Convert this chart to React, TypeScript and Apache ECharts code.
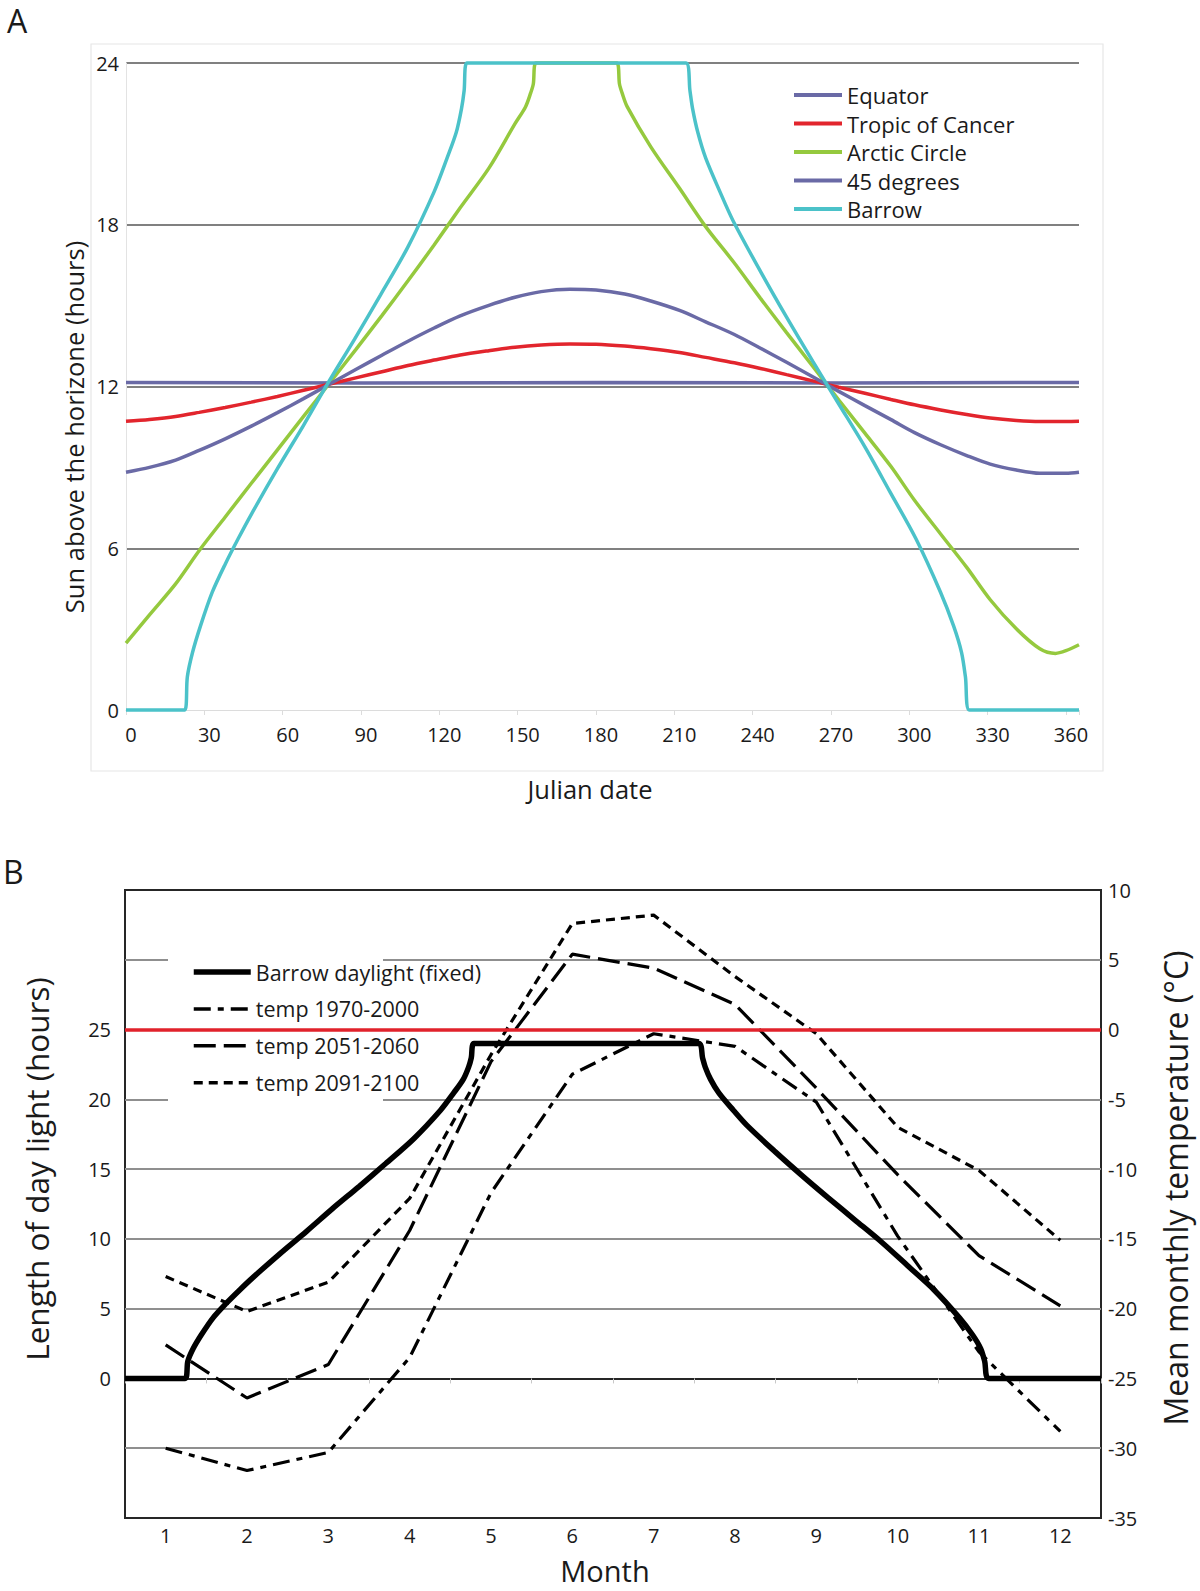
import React, { useEffect, useRef } from 'react';
import * as echarts from 'echarts';

// ---------- Panel A: hours of sun above the horizon vs Julian date ----------
const daysA = [0, 9, 19, 28, 38, 48, 58, 68, 78, 88, 98, 108, 118, 128, 139, 149, 159, 170, 180, 191, 201, 212, 222, 233, 243, 253, 263, 273, 283, 293, 302, 312, 322, 331, 341, 350, 360, 365];
const tropicHours = [10.71, 10.78, 10.89, 11.04, 11.22, 11.42, 11.63, 11.86, 12.09, 12.32, 12.55, 12.78, 12.98, 13.17, 13.33, 13.46, 13.54, 13.58, 13.57, 13.5, 13.4, 13.26, 13.08, 12.88, 12.67, 12.44, 12.21, 11.97, 11.75, 11.52, 11.32, 11.13, 10.96, 10.83, 10.74, 10.7, 10.7, 10.71];
const deg45Hours = [8.82, 9.0, 9.27, 9.63, 10.06, 10.53, 11.03, 11.55, 12.09, 12.63, 13.16, 13.68, 14.17, 14.62, 15.01, 15.31, 15.52, 15.61, 15.58, 15.43, 15.17, 14.82, 14.4, 13.93, 13.42, 12.9, 12.36, 11.82, 11.29, 10.77, 10.29, 9.84, 9.44, 9.12, 8.9, 8.78, 8.78, 8.82];

const equatorDays = [0, 91, 182, 273, 365];
const equatorHours = [12.15, 12.13, 12.15, 12.13, 12.15];

const arcticDays = [0, 9, 19, 28, 38, 48, 58, 68, 78, 88, 98, 108, 118, 128, 139, 149, 153, 155, 156, 157, 172, 188, 189, 190, 192, 201, 212, 222, 233, 243, 253, 263, 273, 283, 293, 302, 312, 322, 331, 341, 350, 356, 360, 365];
const arcticHours = [2.48, 3.53, 4.68, 5.91, 7.16, 8.41, 9.65, 10.89, 12.13, 13.37, 14.63, 15.92, 17.25, 18.63, 20.1, 21.75, 22.37, 22.89, 23.22, 24, 24, 24, 23.22, 22.89, 22.37, 20.89, 19.35, 17.93, 16.58, 15.27, 14.0, 12.75, 11.5, 10.27, 9.03, 7.78, 6.53, 5.29, 4.09, 3.01, 2.27, 2.1, 2.2, 2.42];

const barrowDays = [0, 22.5, 23.5, 25.5, 28.5, 33, 38, 43, 48, 58, 68, 77.5, 87.5, 97.5, 108, 118, 123, 126.5, 128.5, 129.5, 130.5, 214.5, 216, 217, 219, 222, 227.5, 232.5, 243, 253, 263, 273, 283, 292.5, 302.5, 312, 317, 320, 321.5, 323, 365];
const barrowHours = [0, 0, 1.23, 2.14, 3.11, 4.36, 5.41, 6.36, 7.26, 8.95, 10.56, 12.15, 13.75, 15.4, 17.18, 19.22, 20.48, 21.43, 22.31, 22.97, 24, 24, 22.97, 22.31, 21.43, 20.48, 19.22, 18.15, 16.27, 14.57, 12.94, 11.35, 9.76, 8.11, 6.36, 4.36, 3.11, 2.14, 1.23, 0, 0];

const legendA = ['Equator', 'Tropic of Cancer', 'Arctic Circle', '45 degrees', 'Barrow'];

// ---------- Panel B: Barrow daylight and mean monthly temperature ----------
const months = ['1', '2', '3', '4', '5', '6', '7', '8', '9', '10', '11', '12'];
const temp1970 = [-30.0, -31.6, -30.3, -23.5, -11.7, -3.2, -0.3, -1.2, -5.2, -14.8, -23.1, -28.8];
const temp2051 = [-22.6, -26.4, -24.0, -14.4, -2.3, 5.4, 4.4, 1.8, -4.2, -10.4, -16.2, -19.8];
const temp2091 = [-17.7, -20.2, -18.1, -12.1, -1.8, 7.6, 8.2, 3.8, -0.3, -7.0, -10.1, -15.1];

const FONT = "'Open Sans', 'Noto Sans', sans-serif";
const INK = '#1a1a1a';
const C_EQ = '#6a6aa6';
const C_TROP = '#e2252d';
const C_ARC = '#95c93e';
const C_BAR = '#4bc2c9';

const pairs = (xs: number[], ys: number[]) => xs.map((x, i) => [x, ys[i]]);

function txt(text: string, x: number, y: number, size: number, rot = 0, align = 'center') {
  return {
    type: 'text',
    x,
    y,
    rotation: rot,
    silent: true,
    z: 10,
    style: {
      text,
      fontSize: size,
      fontFamily: FONT,
      fill: INK,
      align,
      verticalAlign: 'middle',
      textAlign: align,
      textVerticalAlign: 'middle',
    },
  };
}

export default function App() {
  const ref = useRef<HTMLDivElement>(null);

  useEffect(() => {
    if (!ref.current) return;
    const chart = echarts.init(ref.current, undefined, { renderer: 'svg' });

    const lineA = (name: string, data: number[][], color: string, smooth: number) => ({
      name,
      type: 'line',
      xAxisIndex: 0,
      yAxisIndex: 0,
      data,
      symbol: 'none',
      clip: false,
      smooth,
      lineStyle: { color, width: 3.5 },
      itemStyle: { color },
    });

    const option: any = {
      animation: false,
      backgroundColor: '#ffffff',
      textStyle: { fontFamily: FONT, color: INK },
      grid: [
        { left: 126, top: 63, width: 953, height: 647 },
        {
          left: 125,
          top: 890,
          width: 976,
          height: 628,
          show: true,
          borderColor: '#262626',
          borderWidth: 2,
          backgroundColor: 'transparent',
        },
      ],
      xAxis: [
        {
          gridIndex: 0,
          type: 'value',
          min: 0,
          max: 365,
          interval: 30,
          axisLine: { show: true, lineStyle: { color: '#dcdcdc', width: 1 } },
          axisTick: { show: true, length: 5, lineStyle: { color: '#dcdcdc' } },
          axisLabel: {
            fontSize: 20,
            color: INK,
            margin: 14,
            padding: [0, 0, 0, 10],
            formatter: (v: number) => (v % 30 === 0 ? String(v) : ''),
          },
          splitLine: { show: false },
        },
        {
          gridIndex: 1,
          type: 'category',
          data: months,
          boundaryGap: true,
          axisLine: { show: true, lineStyle: { color: '#262626', width: 2 } },
          axisTick: { show: true, alignWithLabel: false, length: 5, lineStyle: { color: '#c8c8c8' } },
          axisLabel: { fontSize: 20, color: INK, margin: 7, lineHeight: 20 },
          splitLine: { show: false },
        },
        { gridIndex: 1, type: 'value', min: 0, max: 365, show: false },
      ],
      yAxis: [
        {
          gridIndex: 0,
          type: 'value',
          min: 0,
          max: 24,
          interval: 6,
          axisLine: { show: true, lineStyle: { color: '#e3e3e3' } },
          axisTick: { show: false },
          axisLabel: { fontSize: 20, color: INK, margin: 7 },
          splitLine: { show: true, showMinLine: false, lineStyle: { color: '#808080', width: 2 } },
        },
        {
          gridIndex: 1,
          type: 'value',
          position: 'left',
          min: -10,
          max: 35,
          interval: 5,
          axisLine: { show: false },
          axisTick: { show: false },
          axisLabel: {
            fontSize: 20,
            color: INK,
            margin: 14,
            formatter: (v: number) => (v >= 0 && v <= 25 ? String(v) : ''),
          },
          splitLine: {
            show: true,
            showMinLine: false,
            showMaxLine: false,
            lineStyle: { color: '#8f8f8f', width: 2 },
          },
        },
        {
          gridIndex: 1,
          type: 'value',
          position: 'right',
          min: -35,
          max: 10,
          interval: 5,
          axisLine: { show: false },
          axisTick: { show: false },
          axisLabel: { fontSize: 20, color: INK, margin: 7 },
          splitLine: { show: false },
        },
      ],
      legend: [
        {
          data: legendA,
          orient: 'vertical',
          left: 787,
          top: 78,
          itemWidth: 48,
          itemHeight: 14,
          itemGap: 4.5,
          selectedMode: false,
          textStyle: { fontSize: 22, color: INK, lineHeight: 24, fontFamily: FONT },
          lineStyle: { width: 4 },
          itemStyle: { opacity: 0 },
        },
        {
          data: [
            { name: 'Barrow daylight (fixed)', lineStyle: { width: 5.5 } },
            { name: 'temp 1970-2000' },
            { name: 'temp 2051-2060' },
            { name: 'temp 2091-2100' },
          ],
          orient: 'vertical',
          left: 186,
          top: 955,
          itemWidth: 57,
          itemHeight: 14,
          itemGap: 12.9,
          selectedMode: false,
          textStyle: { fontSize: 21.5, color: INK, lineHeight: 24, fontFamily: FONT },
          lineStyle: { width: 3.5 },
          itemStyle: { opacity: 0 },
        },
      ],
      graphic: [
        {
          type: 'rect',
          silent: true,
          z: -1,
          shape: { x: 91, y: 44, width: 1012, height: 727 },
          style: { fill: 'none', stroke: '#e6e6e6', lineWidth: 1.2 },
        },
        {
          type: 'rect',
          silent: true,
          z: 1,
          shape: { x: 168, y: 948, width: 215, height: 162 },
          style: { fill: '#ffffff' },
        },
        txt('A', 7, 20, 32, 0, 'left'),
        txt('B', 3, 871, 32, 0, 'left'),
        txt('Julian date', 590, 789, 25.5),
        txt('Sun above the horizone (hours)', 74, 427, 25.5, Math.PI / 2),
        txt('Length of day light (hours)', 36, 1169, 31.5, Math.PI / 2),
        txt('Mean monthly temperature (°C)', 1175, 1188, 32, Math.PI / 2),
        txt('Month', 605, 1570, 29),
      ],
      series: [
        lineA('Equator', pairs(equatorDays, equatorHours), C_EQ, 0),
        lineA('Tropic of Cancer', pairs(daysA, tropicHours), C_TROP, 0.3),
        lineA('Arctic Circle', pairs(arcticDays, arcticHours), C_ARC, 0.3),
        lineA('45 degrees', pairs(daysA, deg45Hours), C_EQ, 0.3),
        lineA('Barrow', pairs(barrowDays, barrowHours), C_BAR, 0.3),
        {
          name: 'Barrow daylight (fixed)',
          type: 'line',
          xAxisIndex: 2,
          yAxisIndex: 1,
          data: pairs(barrowDays, barrowHours),
          symbol: 'none',
          clip: false,
          smooth: 0.3,
          lineStyle: { color: '#000000', width: 5.5 },
          itemStyle: { color: '#000000' },
          z: 3,
        },
        {
          name: 'temp 1970-2000',
          type: 'line',
          xAxisIndex: 1,
          yAxisIndex: 2,
          data: temp1970,
          symbol: 'none',
          lineStyle: { color: '#000000', width: 3.2, type: [17, 7, 6, 7] },
          itemStyle: { color: '#000000' },
          markLine: {
            silent: true,
            symbol: ['none', 'none'],
            label: { show: false },
            lineStyle: { color: '#e1222b', width: 3.5, type: 'solid' },
            data: [{ yAxis: 0 }],
          },
          z: 3,
        },
        {
          name: 'temp 2051-2060',
          type: 'line',
          xAxisIndex: 1,
          yAxisIndex: 2,
          data: temp2051,
          symbol: 'none',
          lineStyle: { color: '#000000', width: 3.2, type: [22, 8] },
          itemStyle: { color: '#000000' },
          z: 3,
        },
        {
          name: 'temp 2091-2100',
          type: 'line',
          xAxisIndex: 1,
          yAxisIndex: 2,
          data: temp2091,
          symbol: 'none',
          lineStyle: { color: '#000000', width: 3.2, type: [9, 6] },
          itemStyle: { color: '#000000' },
          z: 3,
        },
      ],
    };

    chart.setOption(option);
    return () => {
      chart.dispose();
    };
  }, []);

  return (
    <div
      ref={ref}
      style={{ position: 'absolute', left: 0, top: 0, width: 1200, height: 1591, background: '#ffffff' }}
    />
  );
}
